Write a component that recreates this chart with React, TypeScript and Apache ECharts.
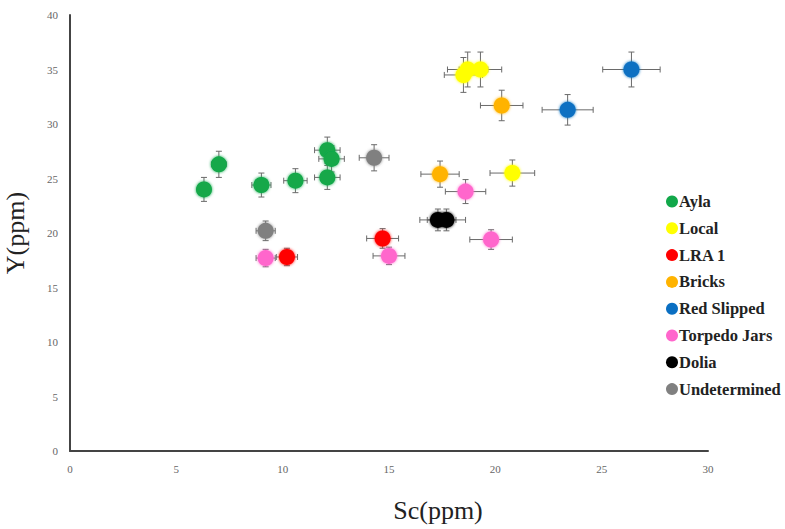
import React, { useEffect, useRef } from "react";
import * as echarts from "echarts";

const groupNames = ["Ayla", "Local", "LRA 1", "Bricks", "Red Slipped", "Torpedo Jars", "Dolia", "Undetermined"];
const groupColors = ["#12a84a", "#ffff00", "#ff0000", "#ffb300", "#0a6fc2", "#ff66cc", "#000000", "#808080"];

const aylaSc = [6.3, 7.0, 9.0, 10.6, 12.1, 12.3, 12.1];
const aylaY = [24.0, 26.3, 24.4, 24.8, 27.6, 26.8, 25.1];
const aylaScErr = [0.3, 0.35, 0.45, 0.55, 0.6, 0.6, 0.6];
const aylaYErr = [1.1, 1.2, 1.1, 1.1, 1.2, 1.2, 1.1];

const localSc = [18.5, 18.7, 19.3, 20.8];
const localY = [34.5, 35.0, 35.0, 25.5];
const localScErr = [0.9, 0.95, 1.0, 1.05];
const localYErr = [1.6, 1.6, 1.6, 1.2];

const lraSc = [10.2, 14.7];
const lraY = [17.8, 19.5];
const lraScErr = [0.5, 0.75];
const lraYErr = [0.8, 0.9];

const bricksSc = [20.3, 17.4];
const bricksY = [31.7, 25.4];
const bricksScErr = [1.0, 0.9];
const bricksYErr = [1.4, 1.2];

const redSlippedSc = [26.4, 23.4];
const redSlippedY = [35.0, 31.3];
const redSlippedScErr = [1.35, 1.2];
const redSlippedYErr = [1.6, 1.4];

const torpedoSc = [9.2, 15.0, 18.6, 19.8];
const torpedoY = [17.7, 17.9, 23.8, 19.4];
const torpedoScErr = [0.45, 0.75, 0.95, 1.0];
const torpedoYErr = [0.8, 0.8, 1.1, 0.9];

const doliaSc = [17.3, 17.7];
const doliaY = [21.2, 21.2];
const doliaScErr = [0.85, 0.9];
const doliaYErr = [1.0, 1.0];

const undetSc = [9.2, 14.3];
const undetY = [20.2, 26.9];
const undetScErr = [0.45, 0.7];
const undetYErr = [0.9, 1.2];

const groupData = [
  [aylaSc, aylaY, aylaScErr, aylaYErr],
  [localSc, localY, localScErr, localYErr],
  [lraSc, lraY, lraScErr, lraYErr],
  [bricksSc, bricksY, bricksScErr, bricksYErr],
  [redSlippedSc, redSlippedY, redSlippedScErr, redSlippedYErr],
  [torpedoSc, torpedoY, torpedoScErr, torpedoYErr],
  [doliaSc, doliaY, doliaScErr, doliaYErr],
  [undetSc, undetY, undetScErr, undetYErr],
];

export default function App() {
  const ref = useRef<HTMLDivElement>(null);
  useEffect(() => {
    if (!ref.current) return;
    const chart = echarts.init(ref.current, null, { renderer: "svg" });
    const errData: number[][] = [];
    groupData.forEach(([xs, ys, xe, ye]) => {
      xs.forEach((x, i) => errData.push([x, ys[i], xe[i], ye[i]]));
    });
    const cap = 3;
    const errStyle = { stroke: "#6a6a6a", lineWidth: 1 };
    const series: any[] = [
      {
        type: "custom",
        name: "err",
        silent: true,
        z: 1,
        encode: { x: 0, y: 1 },
        data: errData,
        renderItem: (params: any, api: any) => {
          const x = api.value(0), y = api.value(1), ex = api.value(2), ey = api.value(3);
          const l = api.coord([x - ex, y]);
          const r = api.coord([x + ex, y]);
          const t = api.coord([x, y + ey]);
          const b = api.coord([x, y - ey]);
          const line = (x1: number, y1: number, x2: number, y2: number) => ({
            type: "line",
            shape: { x1, y1, x2, y2 },
            style: errStyle,
          });
          return {
            type: "group",
            children: [
              line(l[0], l[1], r[0], r[1]),
              line(l[0], l[1] - cap, l[0], l[1] + cap),
              line(r[0], r[1] - cap, r[0], r[1] + cap),
              line(t[0], t[1], b[0], b[1]),
              line(t[0] - cap, t[1], t[0] + cap, t[1]),
              line(b[0] - cap, b[1], b[0] + cap, b[1]),
            ],
          };
        },
      },
    ];
    groupNames.forEach((name, gi) => {
      const [xs, ys] = groupData[gi];
      series.push({
        type: "scatter",
        name,
        z: 3,
        symbol: "circle",
        symbolSize: 16,
        itemStyle: { color: groupColors[gi], opacity: 1, shadowBlur: 3, shadowColor: groupColors[gi] },
        data: xs.map((x, i) => [x, ys[i]]),
      });
    });
    chart.setOption({
      animation: false,
      backgroundColor: "#ffffff",
      grid: { left: 70, right: 77, top: 15, bottom: 78, outerBoundsMode: "none", containLabel: false },
      legend: {
        data: groupNames,
        orient: "vertical",
        left: 661,
        top: 188,
        itemGap: 9.8,
        itemWidth: 12,
        itemHeight: 12,
        icon: "circle",
        textStyle: { fontFamily: "Liberation Serif", fontWeight: "bold", fontSize: 16.5, lineHeight: 16, color: "#222", padding: [0, 0, 0, -4] },
      },
      xAxis: {
        type: "value",
        min: 0,
        max: 30,
        interval: 5,
        name: "Sc(ppm)",
        nameLocation: "middle",
        nameGap: 46,
        nameTextStyle: { fontFamily: "Liberation Serif", fontSize: 26, color: "#222", padding: [0, 0, 0, 98] },
        axisLine: { lineStyle: { color: "#444", width: 2 } },
        axisTick: { show: false },
        splitLine: { show: false },
        axisLabel: { fontFamily: "Liberation Serif", fontSize: 11, color: "#666", margin: 12 },
      },
      yAxis: {
        type: "value",
        min: 0,
        max: 40,
        interval: 5,
        name: "Y(ppm)",
        nameLocation: "middle",
        nameGap: 42,
        nameRotate: 90,
        nameTextStyle: { fontFamily: "Liberation Serif", fontSize: 26, color: "#222" },
        axisLine: { show: true, lineStyle: { color: "#444", width: 2 } },
        axisTick: { show: false },
        splitLine: { show: false },
        axisLabel: { fontFamily: "Liberation Serif", fontSize: 11, color: "#666", margin: 12 },
      },
      series,
    });
    return () => chart.dispose();
  }, []);
  return <div ref={ref} style={{ width: 785, height: 529, position: "absolute", left: 0, top: 0 }} />;
}
